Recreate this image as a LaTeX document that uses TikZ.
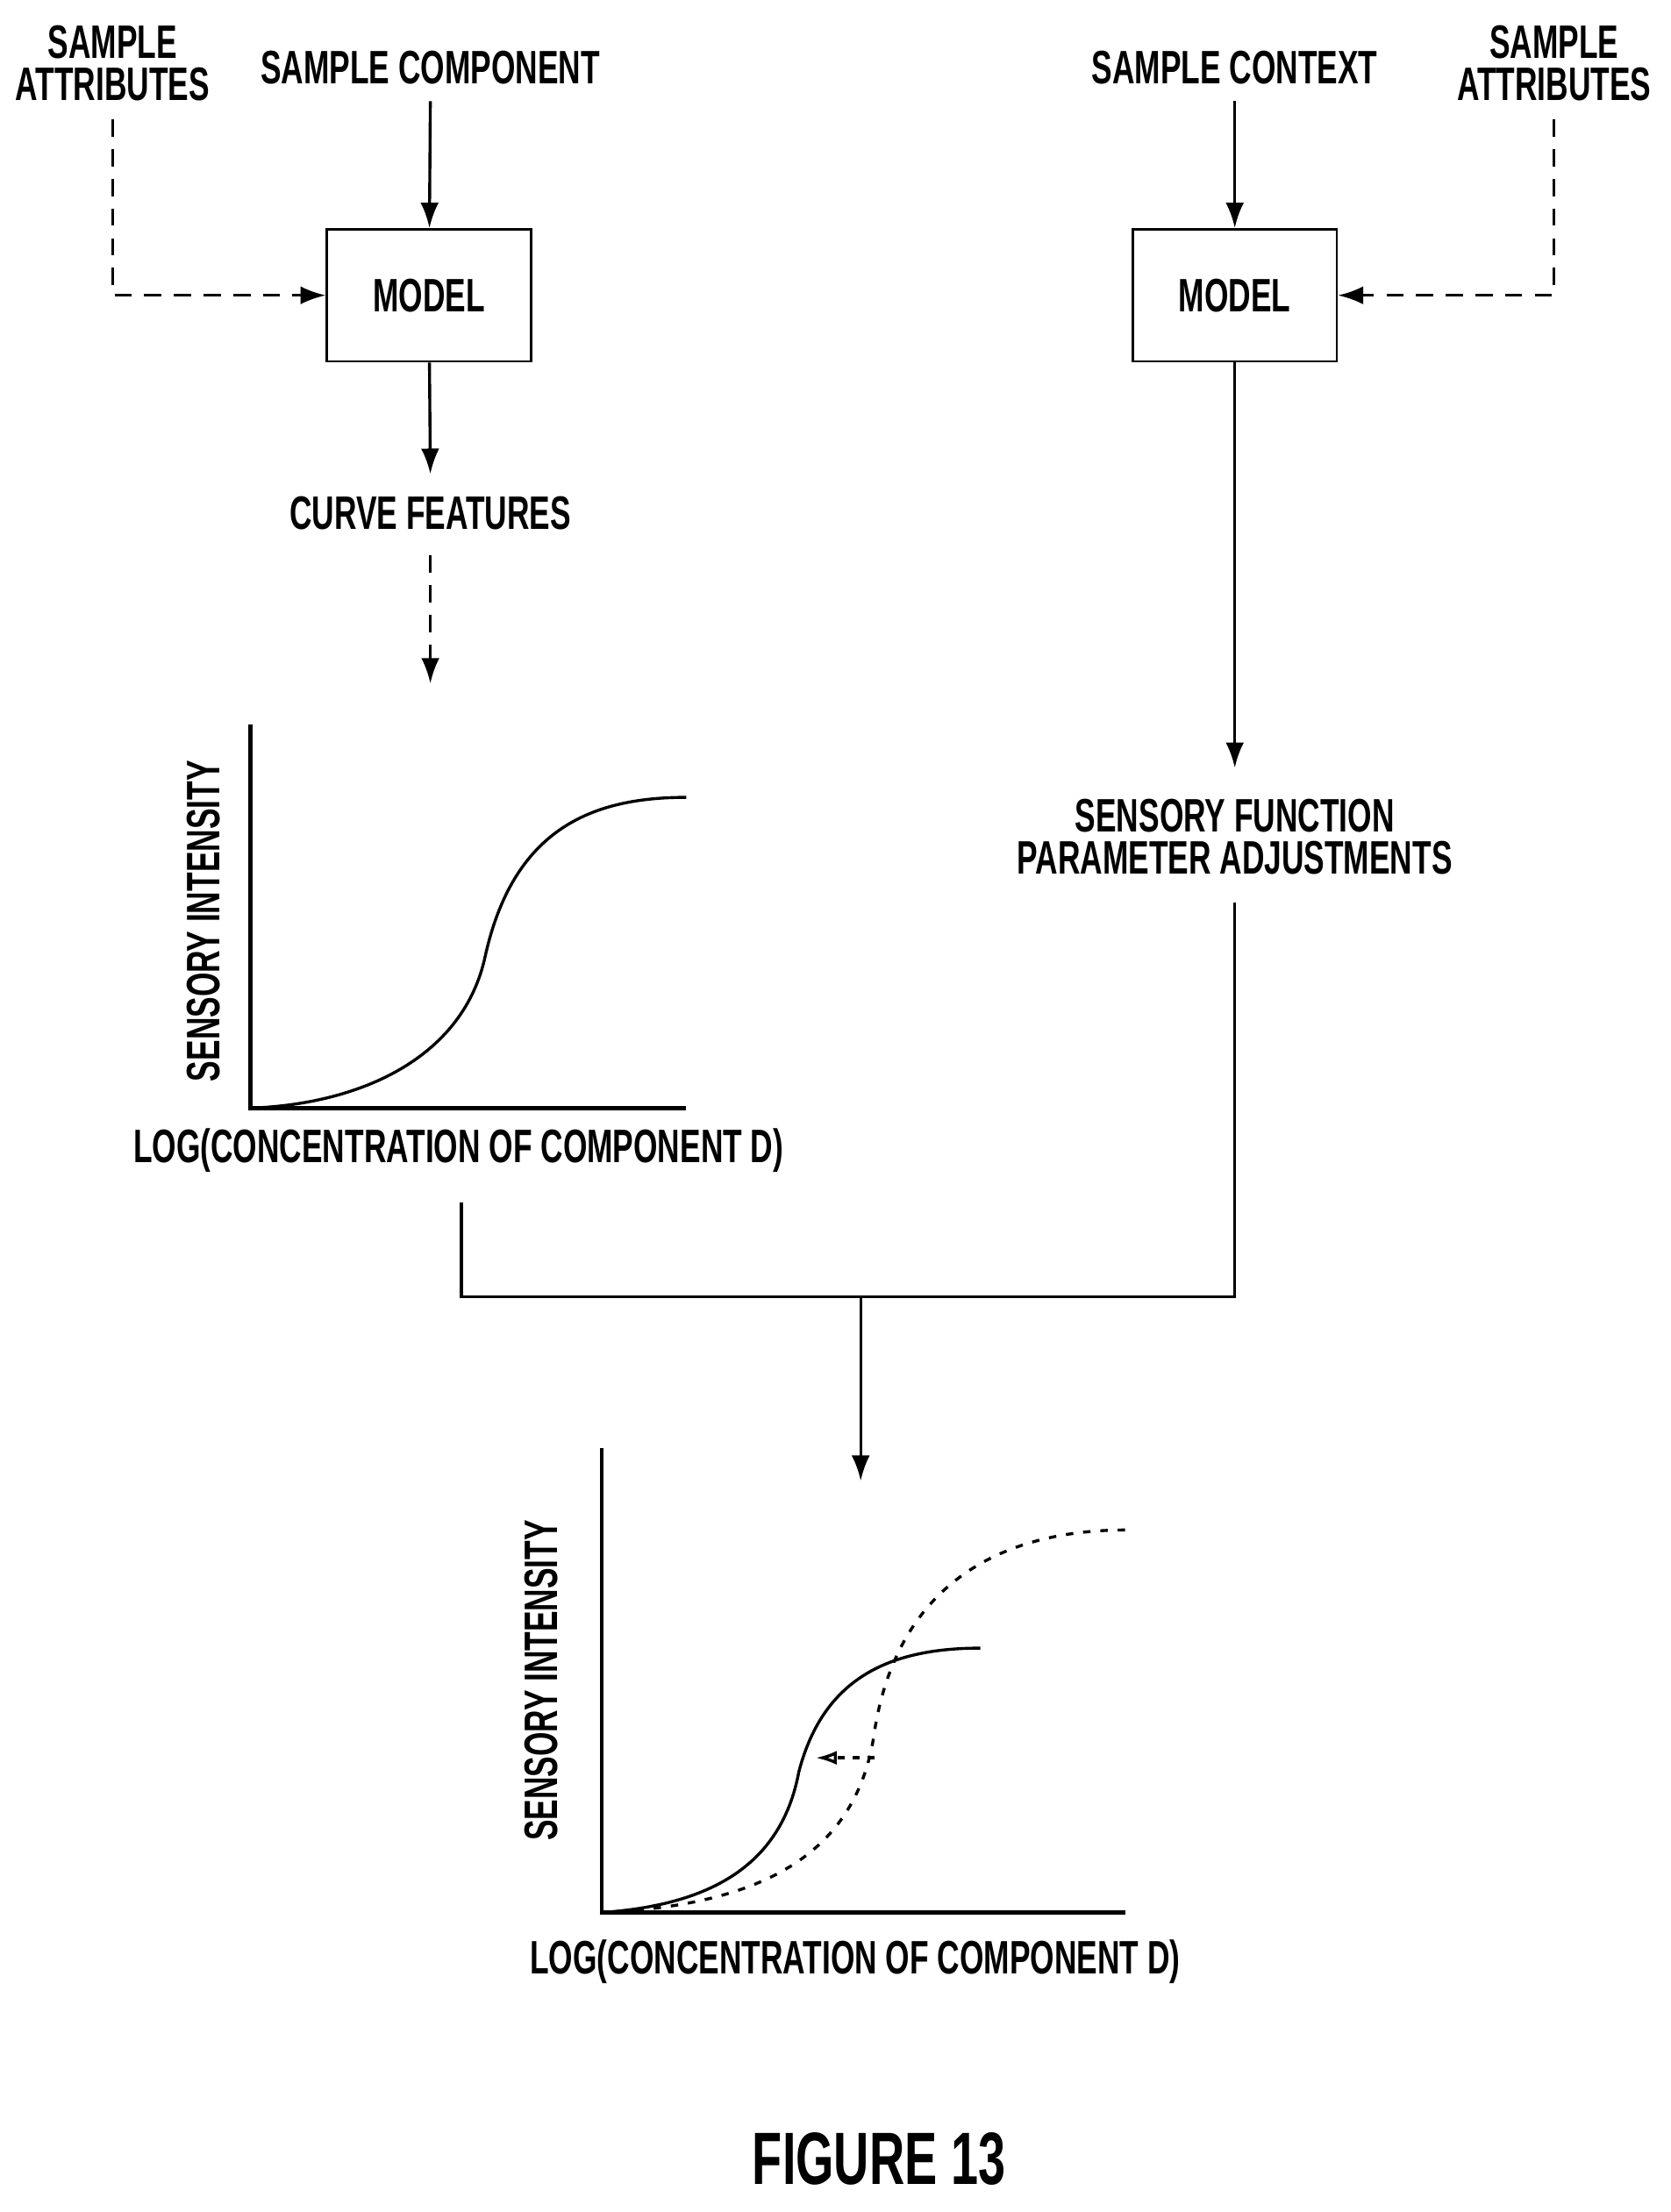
\documentclass[tikz,border=0pt]{standalone}
\usepackage{fontspec}
\setmainfont{Liberation Sans}[FakeStretch=0.66]
\usetikzlibrary{arrows.meta}
\tikzset{%
  >={Latex[width=2.6mm,length=3.6mm]},
  % Specifications for style of nodes:
         txt/.style = {align=center, font=\fontsize{19}{20}\selectfont\bfseries, inner sep=3pt},
       model/.style = {txt, rectangle, draw=black, line width=1pt,
                       minimum width=2.9cm, minimum height=1.88cm},
        flow/.style = {line width=1.2pt},
      dflow/.style = {line width=1.2pt, dash pattern=on 7pt off 5pt},
        axis/.style = {line width=1.6pt},
}

\begin{document}
\begin{tikzpicture}[x=0.02cm, y=-0.02cm]
  \useasboundingbox (0,0) rectangle (1188,1573);
  % Specification of nodes (position, etc.)
  \node (attrL)   [txt] at (80,45)   {SAMPLE\\[-3pt]ATTRIBUTES};
  \node (compo)   [txt] at (306,48)  {SAMPLE COMPONENT};
  \node (modelL)  [model] at (305,210) {MODEL};
  \node (curveF)  [txt] at (306,365) {CURVE FEATURES};
  \node (context) [txt] at (878,48)  {SAMPLE CONTEXT};
  \node (attrR)   [txt] at (1105,45) {SAMPLE\\[-3pt]ATTRIBUTES};
  \node (modelR)  [model] at (878,210) {MODEL};
  \node (adjust)  [txt] at (878,595) {SENSORY FUNCTION\\[-3pt]PARAMETER ADJUSTMENTS};
  \node (figure)  [txt, font=\fontsize{30}{32}\selectfont\bfseries] at (625,1535) {FIGURE 13};
  % end points just off the texts
  \coordinate (attrLS) at (80,85);
  \coordinate (attrRS) at (1105,85);
  \coordinate (compoS) at (306,72);
  \coordinate (contextS) at (878,72);
  \coordinate (curveN) at (306,337);
  \coordinate (curveS) at (306,395);
  \coordinate (adjustN) at (878,546);
  \coordinate (adjustS) at (878,642);
  \coordinate (plotA) at (306,486);
  \coordinate (plotB) at (612,1053);
  \coordinate (join) at (612,922);
  % Specification of lines between nodes
  \draw[->, flow]  (compoS) -- (modelL);
  \draw[->, dflow] (attrLS) |- (modelL);
  \draw[->, flow]  (modelL) -- (curveN);
  \draw[->, dflow] (curveS) -- (plotA);
  \draw[->, flow]  (contextS) -- (modelR);
  \draw[->, dflow] (attrRS) |- (modelR);
  \draw[->, flow]  (modelR) -- (adjustN);
  \draw[flow] (adjustS) |- (join) -| (328,855);
  \draw[->, flow]  (join) -- (plotB);
  % First plot
  \draw[axis] (178,515) -- (178,788) -- (488,788);
  \node[txt, rotate=90] at (145,655) {SENSORY INTENSITY};
  \node[txt] at (326,818) {LOG(CONCENTRATION OF COMPONENT D)};
  \draw[flow] (178,788) .. controls (260,785) and (330,750) .. (345,680)
              .. controls (365,590) and (420,567) .. (488,567);
  % Second plot
  \draw[axis] (428,1030) -- (428,1360) -- (800,1360);
  \node[txt, rotate=90] at (385,1195) {SENSORY INTENSITY};
  \node[txt] at (608,1395) {LOG(CONCENTRATION OF COMPONENT D)};
  \draw[flow] (428,1360) .. controls (500,1355) and (555,1330) .. (568,1260)
              .. controls (585,1195) and (630,1172) .. (697,1172);
  \draw[flow, dash pattern=on 3pt off 4pt] (428,1360) .. controls (540,1355) and (610,1320) .. (622,1230)
              .. controls (640,1120) and (720,1088) .. (800,1088);
  \draw[-{Latex[open,width=2mm,length=3mm]}, flow, dash pattern=on 3pt off 3pt] (622,1250) -- (580,1250);
\end{tikzpicture}
\end{document}
